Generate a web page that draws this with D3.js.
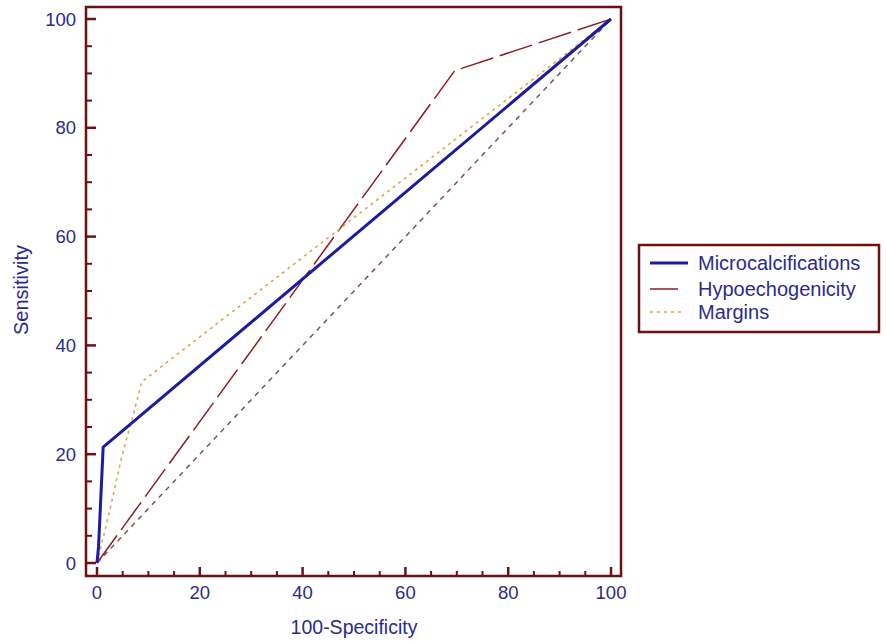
<!DOCTYPE html>
<html>
<head>
<meta charset="utf-8">
<script src="https://cdn.jsdelivr.net/npm/d3@7"></script>
<style>
  body { margin: 0; background: #fff; }
  text { font-family: "Liberation Sans", Arial, sans-serif; fill: #2b2b8c; }
</style>
</head>
<body>
<div id="chart"></div>
<script>
// ROC curves (x = 100-specificity, y = sensitivity)
const microX = [0, 0.3, 1.2, 100];
const microY = [0, 3, 21.3, 100];
const hypoX = [0, 69.6, 100];
const hypoY = [0, 90.5, 100];
const marginX = [0, 2.5, 4.8, 7.8, 8.7, 100];
const marginY = [0, 9.7, 19.5, 29.9, 33.3, 100];
const diagX = [0, 100];
const diagY = [0, 100];
const tickValues = [0, 20, 40, 60, 80, 100];
const seriesNames = ["Microcalcifications", "Hypoechogenicity", "Margins"];

const width = 886, height = 644;
const frameColor = "#6e0f12";

const svg = d3.select("#chart").append("svg")
  .attr("width", width)
  .attr("height", height);

const x = d3.scaleLinear().domain([0, 100]).range([97, 611]);
const y = d3.scaleLinear().domain([0, 100]).range([563, 19]);

// frame
svg.append("rect")
  .attr("x", 86).attr("y", 7)
  .attr("width", 535).attr("height", 569)
  .attr("fill", "none")
  .attr("stroke", frameColor)
  .attr("stroke-width", 2.5);

const minor = d3.range(0, 101, 5).filter(d => d % 20 !== 0);

// y ticks, pointing inward
const yAxis = svg.append("g").attr("transform", "translate(86,0)");
yAxis.selectAll("line.major").data(tickValues).enter().append("line")
  .attr("x1", 0).attr("x2", 10)
  .attr("y1", d => y(d)).attr("y2", d => y(d))
  .attr("stroke", frameColor).attr("stroke-width", 2.5);
yAxis.selectAll("line.minor").data(minor).enter().append("line")
  .attr("x1", 0).attr("x2", 6)
  .attr("y1", d => y(d)).attr("y2", d => y(d))
  .attr("stroke", frameColor).attr("stroke-width", 2);
yAxis.selectAll("text").data(tickValues).enter().append("text")
  .attr("x", -10).attr("y", d => y(d))
  .attr("dy", "0.36em")
  .attr("text-anchor", "end")
  .attr("font-size", 18.5)
  .text(d => d);

// x ticks
const xAxis = svg.append("g").attr("transform", "translate(0,576)");
xAxis.selectAll("line.major").data(tickValues).enter().append("line")
  .attr("x1", d => x(d)).attr("x2", d => x(d))
  .attr("y1", 0).attr("y2", -9)
  .attr("stroke", frameColor).attr("stroke-width", 2.5);
xAxis.selectAll("line.minor").data(minor).enter().append("line")
  .attr("x1", d => x(d)).attr("x2", d => x(d))
  .attr("y1", 0).attr("y2", -5)
  .attr("stroke", frameColor).attr("stroke-width", 2);
xAxis.selectAll("text").data(tickValues).enter().append("text")
  .attr("x", d => x(d)).attr("y", 23)
  .attr("text-anchor", "middle")
  .attr("font-size", 18.5)
  .text(d => d);

// axis titles
svg.append("text")
  .attr("x", 354).attr("y", 634)
  .attr("text-anchor", "middle")
  .attr("font-size", 19.5)
  .text("100-Specificity");
svg.append("text")
  .attr("transform", "translate(28,290) rotate(-90)")
  .attr("text-anchor", "middle")
  .attr("font-size", 20)
  .text("Sensitivity");

const line = d3.line().x(d => x(d[0])).y(d => y(d[1]));
const pts = (xs, ys) => xs.map((v, i) => [v, ys[i]]);

// reference diagonal
svg.append("path")
  .attr("d", line(pts(diagX, diagY)))
  .attr("fill", "none")
  .attr("stroke", "#7d5262")
  .attr("stroke-width", 1.5)
  .attr("stroke-dasharray", "5,5");

const series = [
  { xs: hypoX, ys: hypoY, color: "#8e1b24", w: 1.5, dash: "34,7" },
  { xs: marginX, ys: marginY, color: "#e8a04a", w: 1.6, dash: "3,4" },
  { xs: microX, ys: microY, color: "#1c1ca0", w: 3, dash: null },
];

series.forEach(s => {
  svg.append("path")
    .attr("d", line(pts(s.xs, s.ys)))
    .attr("fill", "none")
    .attr("stroke", s.color)
    .attr("stroke-width", s.w)
    .attr("stroke-linejoin", "round")
    .attr("stroke-dasharray", s.dash);
});

// legend
const legend = svg.append("g");
legend.append("rect")
  .attr("x", 639).attr("y", 245)
  .attr("width", 240).attr("height", 87)
  .attr("fill", "#fff")
  .attr("stroke", frameColor)
  .attr("stroke-width", 2.5);

const legendItems = [
  { color: "#1c1ca0", w: 3, dash: null, x2: 688 },
  { color: "#8e1b24", w: 1.5, dash: null, x2: 678 },
  { color: "#e8a04a", w: 1.6, dash: "3,4", x2: 684 },
];
const legendY = [263, 289, 312];

legendItems.forEach((d, i) => {
  legend.append("line")
    .attr("x1", 650).attr("x2", d.x2)
    .attr("y1", legendY[i]).attr("y2", legendY[i])
    .attr("stroke", d.color)
    .attr("stroke-width", d.w)
    .attr("stroke-dasharray", d.dash);
  legend.append("text")
    .attr("x", 698).attr("y", legendY[i])
    .attr("dy", "0.36em")
    .attr("font-size", 20)
    .text(seriesNames[i]);
});
</script>
</body>
</html>
